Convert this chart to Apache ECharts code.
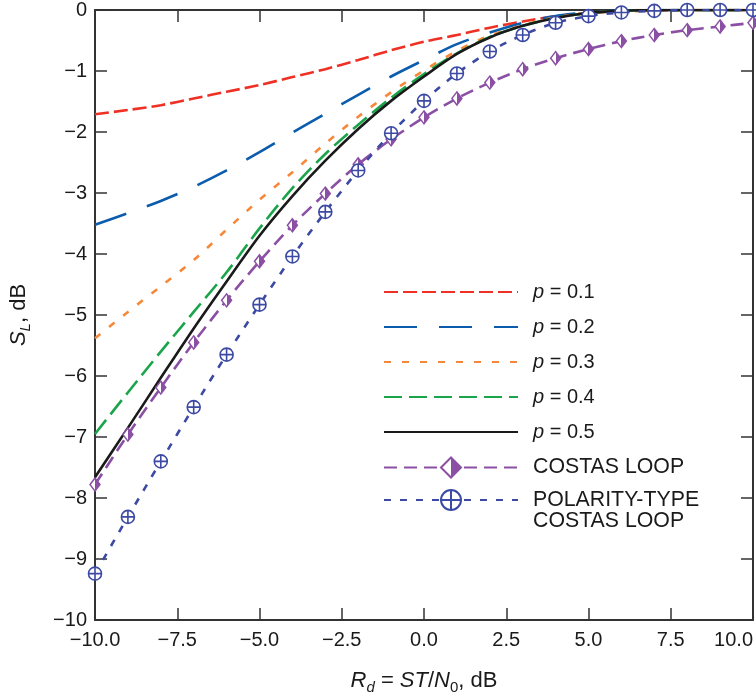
<!DOCTYPE html>
<html>
<head>
<meta charset="utf-8">
<script src="https://cdn.jsdelivr.net/npm/echarts@6/dist/echarts.min.js"></script>
<style>
html,body{margin:0;padding:0;background:#fff;}
#chart{width:756px;height:700px;}
</style>
</head>
<body>
<div id="chart"></div>
<script>
// ---- data ----
const rd = [-10,-9,-8,-7,-6,-5,-4,-3,-2,-1,0,1,2,3,4,5,6,7,8,9,10];
const p01 = [-1.71,-1.64,-1.56,-1.45,-1.34,-1.23,-1.10,-0.97,-0.82,-0.66,-0.52,-0.41,-0.29,-0.19,-0.10,-0.05,-0.02,-0.01,0,0,0];
const p02 = [-3.52,-3.33,-3.13,-2.90,-2.63,-2.33,-2.01,-1.70,-1.39,-1.09,-0.82,-0.56,-0.37,-0.21,-0.10,-0.04,-0.01,0,0,0,0];
const p03 = [-5.38,-4.95,-4.53,-4.10,-3.60,-3.11,-2.66,-2.19,-1.75,-1.35,-0.99,-0.67,-0.42,-0.25,-0.12,-0.05,-0.01,0,0,0,0];
const p04 = [-6.95,-6.27,-5.60,-4.95,-4.30,-3.58,-2.92,-2.36,-1.88,-1.44,-1.05,-0.71,-0.44,-0.26,-0.13,-0.05,-0.015,0,0,0,0];
const p05 = [-7.66,-6.85,-6.03,-5.22,-4.45,-3.70,-3.05,-2.47,-1.95,-1.49,-1.09,-0.72,-0.45,-0.26,-0.13,-0.05,-0.015,0,0,0,0];
const costas = [-7.78,-6.96,-6.19,-5.45,-4.76,-4.12,-3.53,-3.01,-2.53,-2.12,-1.76,-1.45,-1.19,-0.97,-0.79,-0.64,-0.51,-0.41,-0.33,-0.27,-0.21];
const polarity = [-9.24,-8.31,-7.40,-6.51,-5.65,-4.83,-4.04,-3.31,-2.63,-2.02,-1.49,-1.04,-0.68,-0.41,-0.21,-0.10,-0.04,-0.015,0,0,0];

const names = ['p = 0.1','p = 0.2','p = 0.3','p = 0.4','p = 0.5','COSTAS LOOP','POLARITY-TYPE COSTAS LOOP'];
const xTicks = [-10,-7.5,-5,-2.5,0,2.5,5,7.5,10];
const yTicks = [-10,-9,-8,-7,-6,-5,-4,-3,-2,-1,0];

const FONT = '"Liberation Sans", Arial, Helvetica, sans-serif';
const INK = '#1a1a1a';
const AX = '#333333';

function pairs(ys){ return rd.map((x,i)=>[x, ys[i]]); }

const DIAMOND = 'path://M5.5,0 L11,7 L5.5,14 L0,7 Z';
const CIRCLEPLUS = 'path://M0,7 A7,7 0 1,1 14,7 A7,7 0 1,1 0,7 Z M0,7 L14,7 M7,0 L7,14';

const purple = '#8b50a4';
const navy = '#3c4aa3';

function lineSeries(name, ys, color, type, extra){
  return Object.assign({
    name: name, type: 'line', data: pairs(ys),
    symbol: 'none', smooth: 0.3,
    lineStyle: {color: color, width: 2.6, type: type},
    itemStyle: {color: color},
    emphasis: {disabled: true},
    z: 2
  }, extra || {});
}

const halfFill = {
  type: 'linear', x: 0, y: 0, x2: 1, y2: 0,
  colorStops: [{offset:0,color:'#ffffff'},{offset:0.5,color:'#ffffff'},{offset:0.5,color:purple},{offset:1,color:purple}]
};

const series = [
  lineSeries(names[0], p01, '#ee3124', [14,5]),
  lineSeries(names[1], p02, '#0b5cad', [33,22]),
  lineSeries(names[2], p03, '#f7883a', [7,11]),
  lineSeries(names[3], p04, '#1aa54b', [18,7]),
  lineSeries(names[4], p05, '#1a1a1a', 'solid'),
  lineSeries(names[5], costas, purple, [13,7], {
    symbol: DIAMOND, symbolSize: [10,13], showSymbol: true, showAllSymbol: true,
    itemStyle: {color: halfFill, borderColor: purple, borderWidth: 1.5},
    z: 3
  }),
  lineSeries(names[6], polarity, navy, [7,9], {
    symbol: CIRCLEPLUS, symbolSize: 13, showSymbol: true, showAllSymbol: true,
    itemStyle: {color: '#ffffff', borderColor: navy, borderWidth: 1.6},
    z: 4
  })
];

const hideSym = {opacity: 0, color: 'rgba(0,0,0,0)', borderWidth: 0};

const axisLine = {show: true, onZero: false, lineStyle: {color: AX, width: 2}};
const axisTick = {show: true, inside: true, length: 12, lineStyle: {color: AX, width: 1.5}};

const legendText = {fontSize: 20, color: INK, fontFamily: FONT, lineHeight: 21, padding: [0,0,0,10],
  rich: {
    i: {fontStyle: 'italic', fontSize: 20, fontFamily: FONT, color: INK, lineHeight: 21},
    t: {fontSize: 20, fontFamily: FONT, color: INK, lineHeight: 21},
    u: {fontSize: 21.3, fontFamily: FONT, color: INK, lineHeight: 21}
  }
};
function legendFmt(name){
  if (name.indexOf('p = ') === 0) return '{i|p}{t| = ' + name.slice(4) + '}';
  if (name === 'POLARITY-TYPE COSTAS LOOP') return '{u| }\n{u|POLARITY-TYPE}\n{u|COSTAS LOOP}';
  return '{u|' + name + '}';
}

const nameRich = {
  i: {fontStyle: 'italic', fontSize: 22, fontFamily: FONT, color: INK, lineHeight: 28},
  t: {fontSize: 22, fontFamily: FONT, color: INK, lineHeight: 28},
  si: {fontStyle: 'italic', fontSize: 15, fontFamily: FONT, color: INK, lineHeight: 15, verticalAlign: 'bottom'},
  s: {fontSize: 15, fontFamily: FONT, color: INK, lineHeight: 15, verticalAlign: 'bottom'}
};

const option = {
  backgroundColor: '#ffffff',
  animation: false,
  grid: {left: 95, right: 2, top: 5, bottom: 78, containLabel: false},
  legend: [{
    orient: 'vertical', left: 383, top: 281.5, padding: 0,
    itemWidth: 134, itemHeight: 25, itemGap: 14,
    selectedMode: false,
    textStyle: legendText,
    formatter: legendFmt,
    data: [
      {name: names[0], itemStyle: hideSym},
      {name: names[1], itemStyle: hideSym},
      {name: names[2], itemStyle: hideSym},
      {name: names[3], itemStyle: hideSym},
      {name: names[4], itemStyle: hideSym},
      {name: names[5]}
    ]
  }, {
    orient: 'vertical', left: 383, top: 468.5, padding: 0,
    itemWidth: 134, itemHeight: 25, itemGap: 14,
    selectedMode: false,
    textStyle: legendText,
    formatter: legendFmt,
    data: [{name: names[6]}]
  }],
  xAxis: [{
    type: 'value', position: 'bottom', min: xTicks[0], max: xTicks[xTicks.length-1], interval: 2.5,
    axisLine: axisLine, axisTick: axisTick, splitLine: {show: false},
    axisLabel: {
      fontSize: 20, color: INK, fontFamily: FONT, margin: 10, alignMaxLabel: 'right',
      formatter: v => (v < 0 ? '\u2212' : '') + Math.abs(v).toFixed(1)
    },
    name: '{i|R}{si|d}{t| = }{i|ST}{t|/}{i|N}{s|0}{t|, dB}',
    nameLocation: 'middle', nameGap: 47,
    nameTextStyle: {fontSize: 22, color: INK, fontFamily: FONT, rich: nameRich}
  }, {
    type: 'value', position: 'top', min: xTicks[0], max: xTicks[xTicks.length-1], interval: 2.5,
    axisLine: axisLine, axisTick: axisTick, splitLine: {show: false}, axisLabel: {show: false}
  }],
  yAxis: [{
    type: 'value', position: 'left', min: yTicks[0], max: yTicks[yTicks.length-1], interval: 1,
    axisLine: axisLine, axisTick: axisTick, splitLine: {show: false},
    axisLabel: {
      fontSize: 20, color: INK, fontFamily: FONT, margin: 8,
      formatter: v => v === 0 ? '0' : '\u2212' + Math.abs(v)
    },
    name: '{i|S}{si|L}{t|, dB}',
    nameLocation: 'middle', nameGap: 62, nameRotate: 90,
    nameTextStyle: {fontSize: 22, color: INK, fontFamily: FONT, rich: nameRich}
  }, {
    type: 'value', position: 'right', min: yTicks[0], max: yTicks[yTicks.length-1], interval: 1,
    axisLine: axisLine, axisTick: axisTick, splitLine: {show: false}, axisLabel: {show: false}
  }],
  series: series
};

const chart = echarts.init(document.getElementById('chart'), null, {renderer: 'canvas'});
chart.setOption(option);
</script>
</body>
</html>
